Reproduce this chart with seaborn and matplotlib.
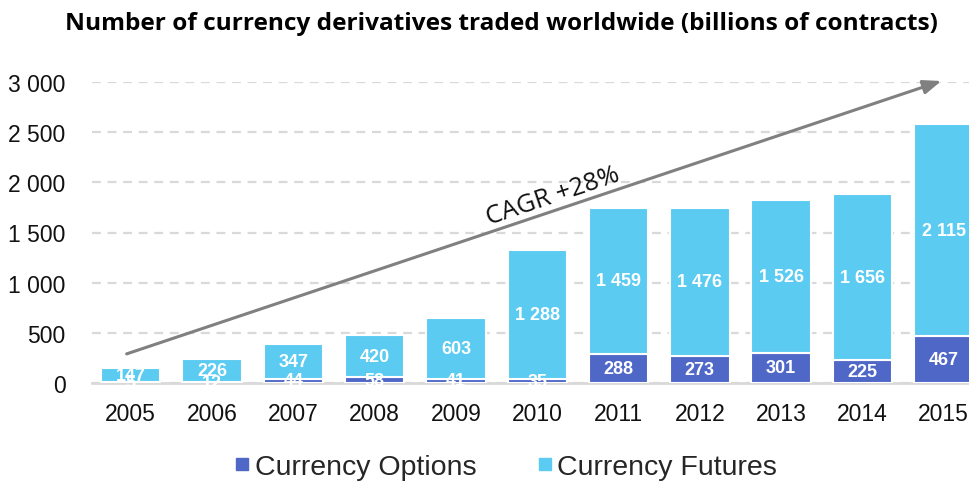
import numpy as np
import pandas as pd
import matplotlib
matplotlib.use("Agg")
import matplotlib.pyplot as plt
import seaborn as sns
from matplotlib.lines import Line2D

years = ["2005", "2006", "2007", "2008", "2009", "2010",
         "2011", "2012", "2013", "2014", "2015"]
options = [5, 12, 44, 58, 41, 35, 288, 273, 301, 225, 467]
futures = [147, 226, 347, 420, 603, 1288, 1459, 1476, 1526, 1656, 2115]
y_ticks = [0, 500, 1000, 1500, 2000, 2500, 3000]
cagr_text = "CAGR +28%"

opt_color = "#4f67c7"
fut_color = "#5ccbf1"

def fmt(v):
    return f"{v:,}".replace(",", " ")

sns.set_theme(style="white")
plt.rcParams["font.family"] = ["Liberation Sans", "DejaVu Sans"]

df = pd.DataFrame({"year": years, "options": options, "futures": futures})

fig = plt.figure(figsize=(9.69, 4.85), dpi=100)
ax = fig.add_axes([92 / 969, 101 / 485, (969 - 92) / 969, 301 / 485])

sns.barplot(data=df, x="year", y="options", color=opt_color, saturation=1, width=0.73,
            edgecolor="white", linewidth=1.5, ax=ax, zorder=3)
sns.barplot(data=df, x="year", y="futures", bottom=df["options"], color=fut_color,
            saturation=1, width=0.73, edgecolor="white", linewidth=1.5, ax=ax, zorder=3)

ax.set_xlim(-0.476, 10.31)
ax.set_ylim(0, 3000)
ax.set_yticks(y_ticks)
ax.set_yticklabels([fmt(v) for v in y_ticks], fontsize=16.5, color="#111111")
ax.tick_params(axis="x", labelsize=16.5, colors="#111111", pad=8)
ax.tick_params(axis="y", pad=13)
ax.set_xlabel("")
ax.set_ylabel("")
for s in ["top", "right", "left"]:
    ax.spines[s].set_visible(False)
ax.spines["bottom"].set_color("#d9d9d9")
ax.spines["bottom"].set_linewidth(2)
ax.yaxis.grid(True, linestyle=(0, (4, 3)), color="#d9d9d9", linewidth=1.6, zorder=0)
ax.set_axisbelow(True)

# value labels
for i, (o, f) in enumerate(zip(options, futures)):
    ax.text(i, o + f / 2, fmt(f), ha="center", va="center", color="white",
            fontsize=13, fontweight="bold", zorder=5)
    ax.text(i, o / 2, fmt(o), ha="center", va="center", color="white",
            fontsize=13, fontweight="bold", zorder=5)

# CAGR arrow
ax.annotate("", xy=(9.97, 3010), xytext=(-0.05, 290),
            arrowprops=dict(arrowstyle="-|>,head_length=0.9,head_width=0.35",
                            color="#808080", lw=2.2, shrinkA=0, shrinkB=0),
            annotation_clip=False, zorder=6)
ax.text(5.19, 1864, cagr_text, rotation=18.6, ha="center", va="center",
        fontsize=18.5, family=["Open Sans", "DejaVu Sans"], color="#111111",
        rotation_mode="anchor", zorder=6)

fig.suptitle("Number of currency derivatives traded worldwide (billions of contracts)",
             x=0.517, y=0.975, fontsize=17.6, fontweight="bold",
             family=["Open Sans", "DejaVu Sans"], color="black")

handles = [Line2D([], [], marker="s", linestyle="", color=opt_color, markersize=8),
           Line2D([], [], marker="s", linestyle="", color=fut_color, markersize=8)]
fig.legend(handles, ["Currency Options", "Currency Futures"], loc="center",
           bbox_to_anchor=(0.52, 0.035), ncol=2, frameon=False, fontsize=20.5,
           handletextpad=0.05, columnspacing=2.0, handlelength=0.8)

fig.savefig("out.png", dpi=100)
